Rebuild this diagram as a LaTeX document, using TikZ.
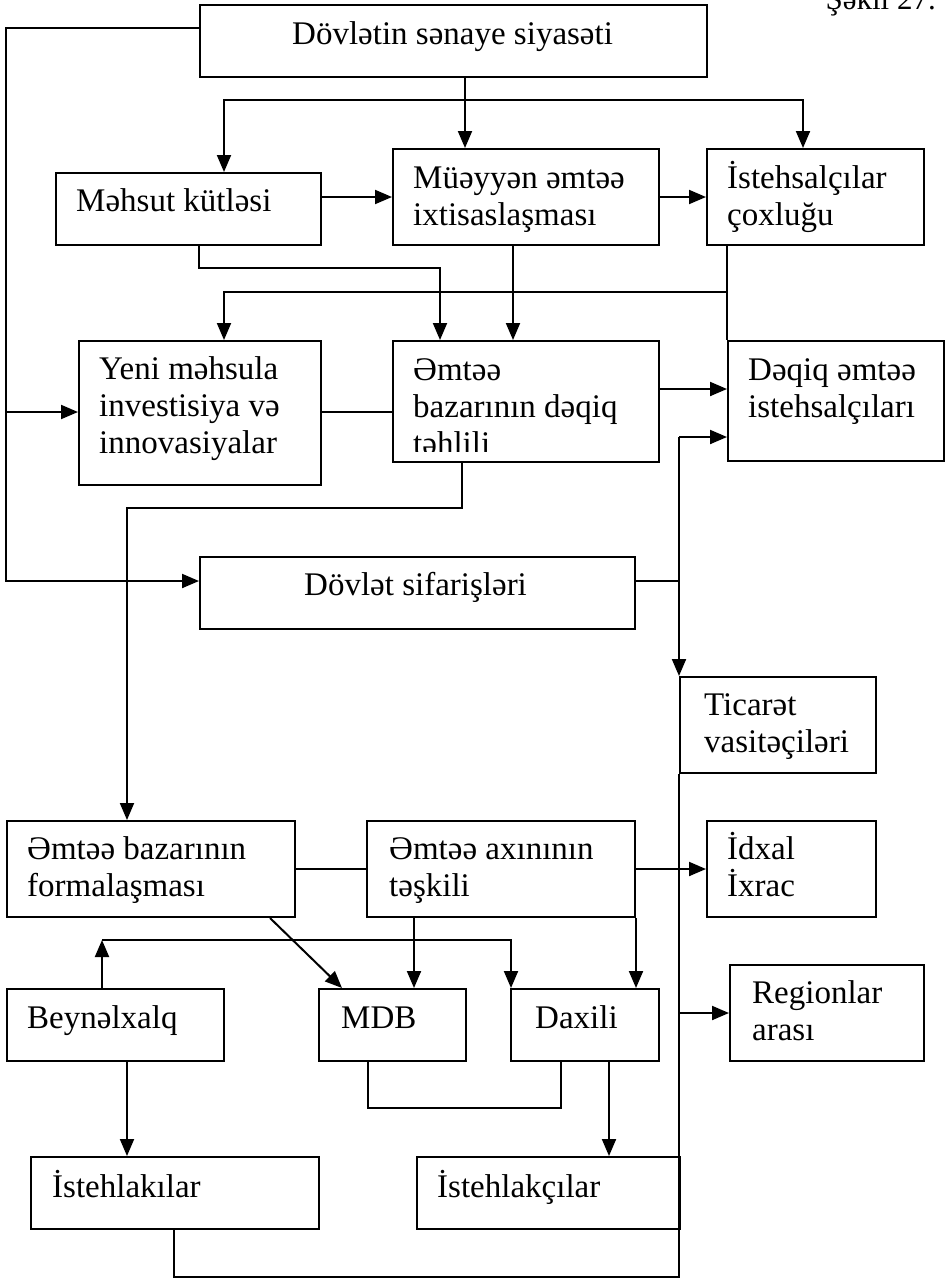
\documentclass[tikz,border=0pt]{standalone}
\usepackage{fontspec}
\setmainfont{Liberation Serif}
\usetikzlibrary{arrows.meta}
\tikzset{
  box/.style={draw, line width=2pt, inner sep=0pt, anchor=north west, fill=none},
  txt/.style={inner sep=0pt, anchor=base west, align=left, font=\fontsize{33}{37}\selectfont},
  conn/.style={line width=2pt},
  arr/.style={line width=2pt, -{Triangle[length=17pt,width=14pt]}},
  darr/.style={line width=2pt, {Triangle[length=17pt,width=14pt]}-{Triangle[length=17pt,width=14pt]}}
}
\begin{document}
\begin{tikzpicture}[x=1pt,y=-1pt]
\useasboundingbox (0,0) rectangle (948,1278);
\fill[white] (0,0) rectangle (948,1278);

% title
\node[txt, anchor=base east, font=\fontsize{31}{34}\selectfont] (title) at (936,9) {Şəkil 27.};

% boxes
\node[box, minimum width=507pt, minimum height=72pt] (top) at (199,4) {};
\node[box, minimum width=265pt, minimum height=72pt] (mk) at (55,172) {};
\node[box, minimum width=266pt, minimum height=96pt] (mu) at (392,148) {};
\node[box, minimum width=217pt, minimum height=96pt] (is) at (706,148) {};
\node[box, minimum width=242pt, minimum height=144pt] (ye) at (78,340) {};
\node[box, minimum width=266pt, minimum height=121pt] (et) at (392,340) {};
\node[box, minimum width=216pt, minimum height=120pt] (dq) at (727,340) {};
\node[box, minimum width=435pt, minimum height=72pt] (ds) at (199,556) {};
\node[box, minimum width=196pt, minimum height=96pt] (ti) at (679,676) {};
\node[box, minimum width=288pt, minimum height=96pt] (ef) at (6,820) {};
\node[box, minimum width=268pt, minimum height=96pt] (ea) at (366,820) {};
\node[box, minimum width=169pt, minimum height=96pt] (id) at (706,820) {};
\node[box, minimum width=217pt, minimum height=72pt] (be) at (6,988) {};
\node[box, minimum width=147pt, minimum height=72pt] (md) at (318,988) {};
\node[box, minimum width=148pt, minimum height=72pt] (dx) at (510,988) {};
\node[box, minimum width=194pt, minimum height=96pt] (rg) at (729,964) {};
\node[box, minimum width=288pt, minimum height=72pt] (ia) at (30,1156) {};
\node[box, minimum width=263pt, minimum height=72pt] (ib) at (416,1156) {};

% texts (anchor = baseline of the last line)
\node[txt] (t-top) at (292,44) {Dövlətin sənaye siyasəti};
\node[txt] (t-mk) at (76,211) {Məhsut kütləsi};
\node[txt] (t-mu) at (413,225) {Müəyyən əmtəə\\ixtisaslaşması};
\node[txt] (t-is) at (727,225) {İstehsalçılar\\çoxluğu};
\node[txt] (t-ye) at (99,453) {Yeni məhsula\\investisiya və\\innovasiyalar};
\begin{scope}
\clip (380,330) rectangle (670,451);
\node[txt] (t-et) at (413,454) {Əmtəə\\bazarının dəqiq\\təhlili};
\end{scope}
\node[txt] (t-dq) at (748,417) {Dəqiq əmtəə\\istehsalçıları};
\node[txt] (t-ds) at (304,595) {Dövlət sifarişləri};
\node[txt] (t-ti) at (704,752) {Ticarət\\vasitəçiləri};
\node[txt] (t-ef) at (27,896) {Əmtəə bazarının\\formalaşması};
\node[txt] (t-ea) at (389,896) {Əmtəə axınının\\təşkili};
\node[txt] (t-id) at (727,896) {İdxal\\İxrac};
\node[txt] (t-be) at (27,1028) {Beynəlxalq};
\node[txt] (t-md) at (341,1028) {MDB};
\node[txt] (t-dx) at (535,1028) {Daxili};
\node[txt] (t-rg) at (752,1040) {Regionlar\\arası};
\node[txt] (t-ia) at (52,1197) {İstehlakılar};
\node[txt] (t-ib) at (437,1197) {İstehlakçılar};

% junction coordinates
\coordinate (L1) at (6,28);
\coordinate (L2) at (6,581);
\coordinate (L3) at (6,412);
\coordinate (J1) at (465,100);
\coordinate (Ha) at (224,100);
\coordinate (Hb) at (803,100);
\coordinate (Y1) at (0,197);
\coordinate (c1) at (199,268);
\coordinate (c2) at (440,268);
\coordinate (c3) at (513,0);
\coordinate (c4) at (727,292);
\coordinate (c6) at (224,292);
\coordinate (Y2) at (0,389);
\coordinate (d1) at (462,508);
\coordinate (d2) at (127,508);
\coordinate (T1) at (679,437);
\coordinate (T2) at (679,1277);
\coordinate (T3) at (174,1277);
\coordinate (TD) at (679,581);
\coordinate (e1) at (270,0);
\coordinate (e2) at (342,0);
\coordinate (e3) at (414,0);
\coordinate (B1) at (102,940);
\coordinate (B2) at (511,940);
\coordinate (m1) at (368,1108);
\coordinate (m2) at (561,1108);
\coordinate (x1) at (609,0);
\coordinate (b1) at (127,0);

% connectors
\draw[arr] (top.west |- L1) -- (L1) -- (L2) -- (ds.west |- L2);
\draw[arr] (L3) -- (ye.west |- L3);
\draw[arr] (top.south -| J1) -- (mu.north -| J1);
\draw[darr] (mk.north -| Ha) -- (Ha) -- (Hb) -- (is.north -| Hb);
\draw[arr] (mk.east |- Y1) -- (mu.west |- Y1);
\draw[arr] (mu.east |- Y1) -- (is.west |- Y1);
\draw[arr] (mk.south -| c1) -- (c1) -- (c2) -- (et.north -| c2);
\draw[arr] (mu.south -| c3) -- (et.north -| c3);
\draw[conn] (is.south -| c4) -- (dq.north west);
\draw[arr] (c4) -- (c6) -- (ye.north -| c6);
\draw[conn] (ye.east |- L3) -- (et.west |- L3);
\draw[arr] (et.east |- Y2) -- (dq.west |- Y2);
\draw[arr] (et.south -| d1) -- (d1) -- (d2) -- (ef.north -| d2);
\draw[arr] (T1) -- (dq.west |- T1);
\draw[arr] (T1) -- (ti.north west);
\draw[conn] (ds.east |- TD) -- (TD);
\draw[conn] (ti.south west) -- (T2) -- (T3) -- (ia.south -| T3);
\draw[arr] (rg.west -| T1) -- (rg.west);
\draw[conn] (ef.east) -- (ea.west);
\draw[arr] (ea.east) -- (id.west);
\draw[arr] (ef.south -| e1) -- (md.north -| e2);
\draw[arr] (ea.south -| e3) -- (md.north -| e3);
\draw[arr] (ea.south east) -- (dx.north -| ea.south east);
\draw[arr] (be.north -| B1) -- (B1);
\draw[arr] (B1) -- (B2) -- (dx.north -| B2);
\draw[conn] (md.south -| m1) -- (m1) -- (m2) -- (dx.south -| m2);
\draw[arr] (dx.south -| x1) -- (ib.north -| x1);
\draw[arr] (be.south -| b1) -- (ia.north -| b1);
\end{tikzpicture}
\end{document}
